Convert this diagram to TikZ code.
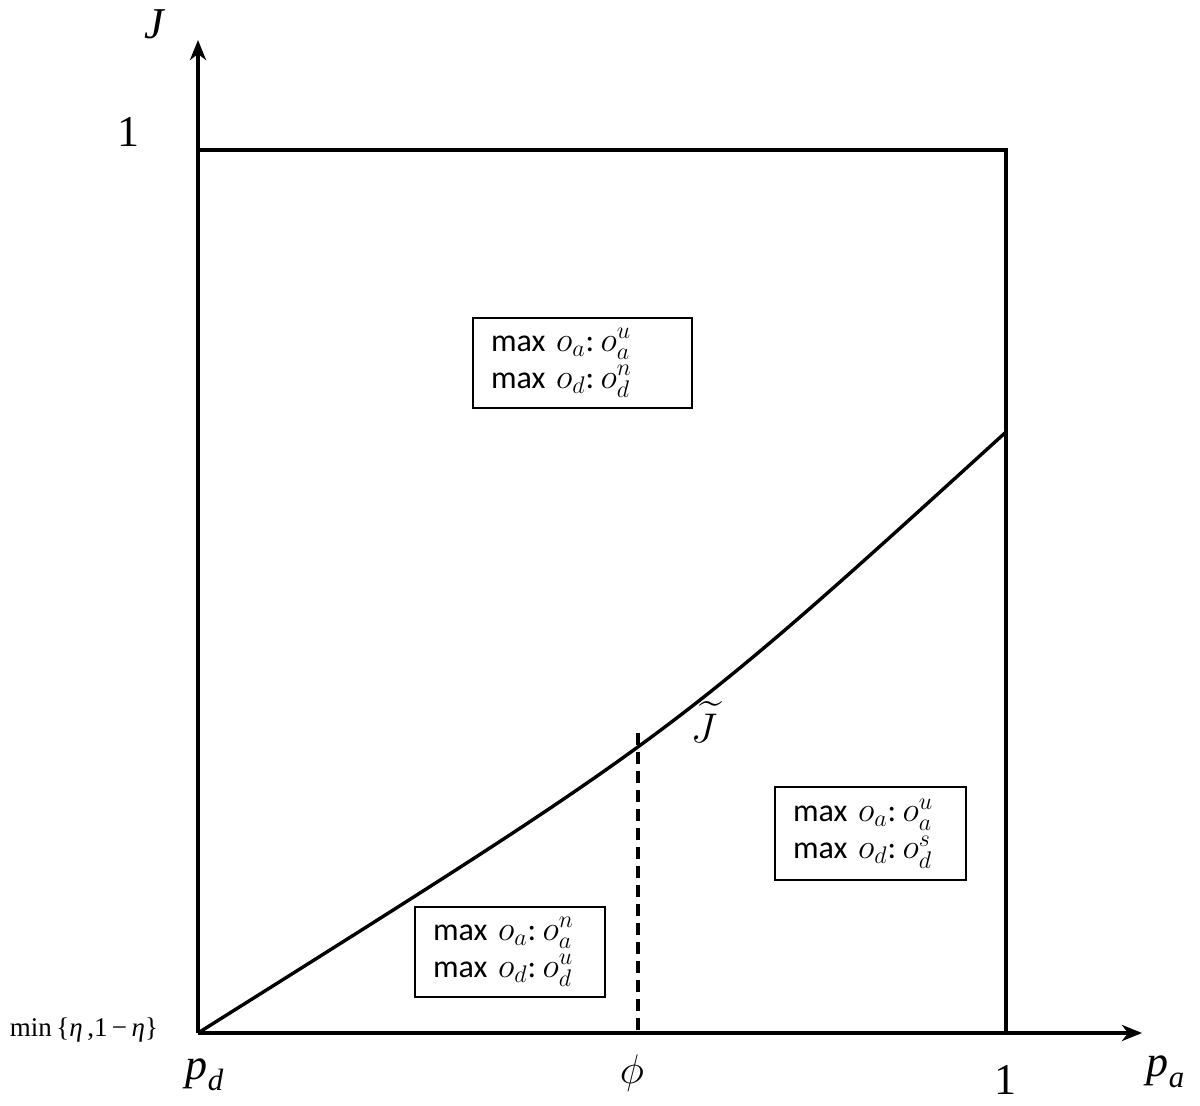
\documentclass[tikz,border=0pt]{standalone}
\usepackage{amsmath}
\usepackage{fontspec}
\setmainfont{Liberation Serif}
\newfontfamily\boxfont{Carlito}
\newcommand{\bm}[1]{{\fontsize{17.5}{18.5}\selectfont$#1$}}
\usetikzlibrary{arrows.meta}
\tikzset{
  axisline/.style={line width=2pt,-{Stealth[length=10pt,width=8pt,inset=3pt]}},
  frameline/.style={line width=1.7pt},
  regionbox/.style={draw,line width=1pt,align=left,inner xsep=9pt,inner ysep=4pt,
    font=\boxfont\fontsize{16}{18.5}\selectfont},
  biglabel/.style={font=\fontsize{22}{24}\selectfont},
}
\begin{document}
\begin{tikzpicture}[x=0.5pt,y=-0.5pt]
\useasboundingbox (0,0) rectangle (1200,1106);
\coordinate (O) at (198,1033);
\coordinate (ytip) at (198,40);
\coordinate (xtip) at (1142,1033);
\coordinate (TL) at (198,150);
\coordinate (TR) at (1006,150);
\coordinate (BR) at (1006,1033);
\coordinate (Cend) at (1006,432);
\coordinate (Cctrl) at (674,734);
\coordinate (Phi) at (638,733);
\coordinate (PhiB) at (638,1033);
\draw[axisline] (O) -- (ytip);
\draw[axisline] (O) -- (xtip);
\draw[frameline] (TL) -- (TR) -- (BR);
\draw[frameline] (O) .. controls (Cctrl) .. (Cend);
\draw[line width=1.7pt,dash pattern=on 6pt off 3.5pt] (Phi) -- (PhiB);
\node[biglabel] (lJ) at (155,24) {\textit{J}};
\node[biglabel] (l1y) at (128,132) {1};
\node[biglabel] (l1x) at (1005,1080) {1};
\node[biglabel] (lpd) at (205,1075) {$\textit{p}_{\textit{d}}$};
\node[biglabel] (lpa) at (1166,1072) {$\textit{p}_{\textit{a}}$};
\node[biglabel] (lphi) at (632,1073) {$\phi$};
\node[biglabel] (lJt) at (704,722) {$\widetilde{J}$};
\node[font=\fontsize{13.5}{15}\selectfont] (lmin) at (84,1030) {min\,\{\textit{η}\,,1\,−\,\textit{η}\}};
\node[regionbox,text width=91.5pt,minimum height=45pt] (b1) at (582.5,363) {max \bm{o_a}:\hspace{0.2em}\bm{o_a^u}\\max \bm{o_d}:\hspace{0.2em}\bm{o_d^n}};
\node[regionbox,text width=77.5pt,minimum height=46.5pt] (b2) at (870.5,833.5) {max \bm{o_a}:\hspace{0.2em}\bm{o_a^u}\\max \bm{o_d}:\hspace{0.2em}\bm{o_d^s}};
\node[regionbox,text width=77pt,minimum height=45pt] (b3) at (510,952) {max \bm{o_a}:\hspace{0.2em}\bm{o_a^n}\\max \bm{o_d}:\hspace{0.2em}\bm{o_d^u}};
\end{tikzpicture}
\end{document}
